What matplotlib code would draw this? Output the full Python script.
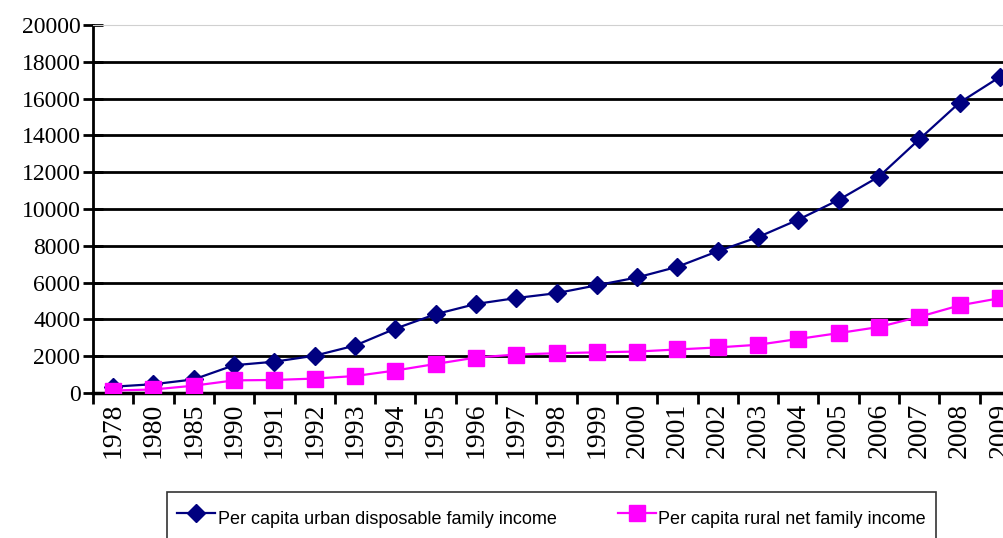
import matplotlib
matplotlib.use("Agg")
import matplotlib.pyplot as plt
import numpy as np

years = ["1978", "1980", "1985", "1990", "1991", "1992", "1993", "1994", "1995", "1996",
         "1997", "1998", "1999", "2000", "2001", "2002", "2003", "2004", "2005", "2006",
         "2007", "2008", "2009"]
urban = [343, 478, 739, 1510, 1701, 2027, 2577, 3496, 4283, 4839, 5160, 5425, 5854,
         6280, 6860, 7703, 8472, 9422, 10493, 11759, 13786, 15781, 17175]
rural = [134, 191, 398, 686, 709, 784, 922, 1221, 1578, 1926, 2090, 2162, 2210, 2253,
         2366, 2476, 2622, 2936, 3255, 3587, 4140, 4761, 5153]

fig = plt.figure(figsize=(10.04, 5.38), dpi=100)
ax = fig.add_axes([93 / 1004, 145 / 538, 927 / 1004, 368 / 538])

x = np.arange(len(years))
for v in range(2000, 20000, 2000):
    ax.axhline(v, color="black", lw=2, zorder=1)

ax.plot(x, urban, color="#000080", lw=1.6, marker="D", markersize=9.5,
        label="Per capita urban disposable family income", zorder=3)
ax.plot(x, rural, color="#FF00FF", lw=1.6, marker="s", markersize=11,
        label="Per capita rural net family income", zorder=3)

ax.set_xlim(-0.5, len(years) - 0.5)
ax.set_ylim(0, 20000)
ax.set_yticks(range(0, 20001, 2000))
ax.set_yticklabels([str(v) for v in range(0, 20001, 2000)], family="Liberation Serif", fontsize=17)
ax.tick_params(axis="y", direction="inout", length=14, width=2, pad=2)

ax.set_xticks(np.arange(len(years) + 1) - 0.5)
ax.set_xticklabels([])
ax.tick_params(axis="x", which="major", direction="out", length=8, width=2)
ax.set_xticks(x, minor=True)
ax.set_xticklabels(years, minor=True, rotation=90, family="Liberation Serif", fontsize=20)
ax.tick_params(axis="x", which="minor", length=0, pad=7)

ax.spines["left"].set_linewidth(2)
ax.spines["bottom"].set_linewidth(2.5)
ax.spines["right"].set_visible(False)
ax.spines["top"].set_color("#d0d0d0")

top = 1 - 492 / 538
leg = fig.legend(loc="upper left", bbox_to_anchor=(167 / 1004, top),
                 ncol=2, frameon=True, fancybox=False, edgecolor="black",
                 borderaxespad=0, handlelength=2.1, handletextpad=0.15, borderpad=0.55,
                 columnspacing=3.4, handleheight=2.4,
                 prop={"family": "Liberation Sans", "size": 13})
leg.get_frame().set_linewidth(1.2)

fig.savefig("out.png", dpi=100)
